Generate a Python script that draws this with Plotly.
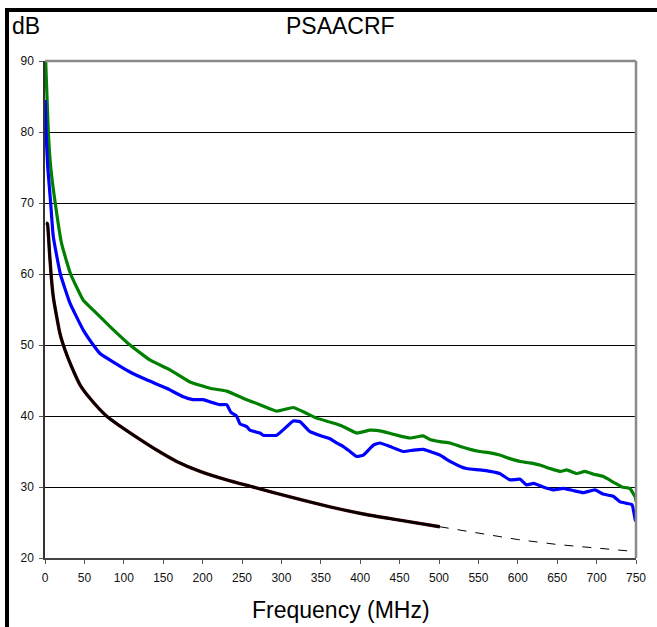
import plotly.graph_objects as go

# ---- data ----
green_f = [0.5, 4.2, 7.2, 12.7, 21, 32.5, 48.6, 61.3, 82.5, 107.9, 133, 158.6, 184, 209.4,
           230.5, 256, 272.8, 294, 315, 327.8, 344.8, 365.9, 378.6, 395.6, 412.6, 429.5,
           446.5, 463.5, 480, 488.6, 501, 514, 527, 539.6, 552, 565, 577, 590, 603, 615,
           628, 641, 654, 662, 675, 685, 696, 708, 721, 732, 742, 749, 750]
green_db = [91, 80, 75.1, 70.2, 64.3, 60, 56.3, 54.9, 52.6, 50, 47.9, 46.5, 44.8, 43.9,
            43.5, 42.3, 41.6, 40.7, 41.2, 40.6, 39.7, 39.0, 38.5, 37.6, 38.0, 37.8,
            37.3, 36.9, 37.2, 36.7, 36.4, 36.2, 35.7, 35.3, 35.0, 34.8, 34.5, 34.0, 33.6, 33.4,
            33.1, 32.6, 32.2, 32.4, 31.9, 32.2, 31.8, 31.5, 30.7, 30.0, 29.8, 28.6, 28.0]

blue_f = [0.3, 1.3, 3.5, 7.2, 10.5, 19.5, 31.7, 48.6, 61.3, 69.8, 86.7, 107.9, 129, 154.4,
          175.5, 188, 200.9, 209.4, 222, 230.5, 236, 243, 247.5, 256, 260, 272.8, 277, 294,
          306.7, 315, 323.6, 336.3, 353, 361.7, 370, 378.6, 387, 395.6, 404, 416.8, 425,
          437.8, 454.8, 467.5, 480, 488.6, 501, 514, 527, 535, 552, 565, 577, 590, 603, 611,
          620, 632, 645, 658, 670, 683, 698, 708, 721, 730, 738, 745, 749, 750]
blue_db = [84.5, 80, 75, 70, 65.3, 60, 55.9, 52.1, 50, 48.8, 47.6, 46.2, 45.1, 43.9,
           42.7, 42.3, 42.3, 42.0, 41.6, 41.6, 40.5, 40.0, 38.9, 38.5, 38.0, 37.6, 37.3, 37.3,
           38.5, 39.3, 39.2, 37.8, 37.1, 36.8, 36.2, 35.7, 35.0, 34.3, 34.5, 35.9, 36.2,
           35.7, 35.0, 35.2, 35.3, 35.0, 34.5, 33.6, 32.9, 32.6, 32.4, 32.2, 31.9, 31.0, 31.1, 30.3,
           30.5, 30.0, 29.6, 29.8, 29.5, 29.2, 29.6, 29.0, 28.7, 27.9, 27.7, 27.5, 25.4, 25.2]

limit_f = [1.3, 3.0, 4.2, 5.5, 7.6, 10.5, 14.8, 19, 25.4, 33.9, 44.4, 57, 78, 95, 120.5,
           141.7, 167, 196.7, 230.5, 264, 311, 361.7, 404, 446, 501]
limit_db = [67.2, 67.1, 65.7, 63.4, 60.1, 56.8, 54.0, 51.6, 49.3, 46.9, 44.4, 42.5, 40.0,
            38.6, 36.7, 35.2, 33.6, 32.2, 31.0, 30.0, 28.6, 27.2, 26.2, 25.4, 24.4]

ext_f = [501, 550, 600, 650, 700, 750]
ext_db = [24.4, 23.5, 22.6, 21.9, 21.4, 20.9]

x_ticks = list(range(0, 751, 50))
y_ticks = list(range(20, 91, 10))

FONT = "Liberation Sans, Arial, sans-serif"

fig = go.Figure()
fig.add_trace(go.Scatter(x=ext_f, y=ext_db, mode="lines",
                         line=dict(color="#000000", width=1, dash="dash")))
fig.add_trace(go.Scatter(x=green_f, y=green_db, mode="lines",
                         line=dict(color="#008000", width=3.2, shape="spline", smoothing=0.4)))
fig.add_trace(go.Scatter(x=blue_f, y=blue_db, mode="lines",
                         line=dict(color="#0000ff", width=3.2, shape="spline", smoothing=0.4)))
fig.add_trace(go.Scatter(x=limit_f, y=limit_db, mode="lines",
                         line=dict(color="#5a0000", width=3.4, shape="spline", smoothing=0.6)))
fig.add_trace(go.Scatter(x=limit_f, y=limit_db, mode="lines",
                         line=dict(color="#000000", width=2.4, shape="spline", smoothing=0.6)))

W, H = 657, 627
L, R, T, B = 45, 21, 61, 69
pw, ph = W - L - R, H - T - B


def px_x(x):
    return (x - L) / pw


def px_y(y):
    return (H - B - y) / ph


fig.update_layout(
    width=W, height=H,
    margin=dict(l=L, r=R, t=T, b=B, pad=0),
    paper_bgcolor="white", plot_bgcolor="white",
    showlegend=False,
    font=dict(family=FONT, color="#000000"),
    xaxis=dict(range=[0, 750], tickvals=x_ticks, ticktext=[str(v) for v in x_ticks],
               ticks="outside", ticklen=4, tickcolor="#555555", tickwidth=1,
               showline=True, linecolor="#444444", linewidth=1.5,
               showgrid=False, zeroline=False, tickfont=dict(size=12, color="#111111"),
               ticklabelstandoff=4),
    yaxis=dict(range=[20, 90], tickvals=y_ticks, ticktext=[str(v) for v in y_ticks],
               ticks="outside", ticklen=4, tickcolor="#555555", tickwidth=1,
               showline=True, linecolor="#333333", linewidth=1.5,
               showgrid=True, gridcolor="#000000", gridwidth=1,
               zeroline=False, tickfont=dict(size=12, color="#111111"),
               ticklabelstandoff=3),
    shapes=[
        dict(type="line", xref="paper", yref="paper", x0=0, x1=1, y0=1, y1=1,
             line=dict(color="#8a8a8a", width=2.5), layer="above"),
        dict(type="line", xref="paper", yref="paper", x0=1, x1=1, y0=0, y1=1,
             line=dict(color="#8a8a8a", width=2.5), layer="above"),
        dict(type="rect", xref="paper", yref="paper",
             x0=px_x(7), x1=px_x(700), y0=px_y(700), y1=px_y(10),
             line=dict(color="#000000", width=4), layer="above"),
    ],
    annotations=[
        dict(text="PSAACRF", xref="paper", yref="paper", x=0.5, y=px_y(26),
             xanchor="center", yanchor="middle", showarrow=False,
             font=dict(size=23, family=FONT)),
        dict(text="dB", xref="paper", yref="paper", x=px_x(10), y=px_y(26),
             xanchor="left", yanchor="middle", showarrow=False,
             font=dict(size=23, family=FONT)),
        dict(text="Frequency (MHz)", xref="paper", yref="paper", x=0.5, y=px_y(610),
             xanchor="center", yanchor="middle", showarrow=False,
             font=dict(size=23, family=FONT)),
    ],
)

fig.write_html(
    "out.html",
    config={"displayModeBar": False},
    post_script="document.body.style.margin='0px';document.body.style.padding='0px';",
)
